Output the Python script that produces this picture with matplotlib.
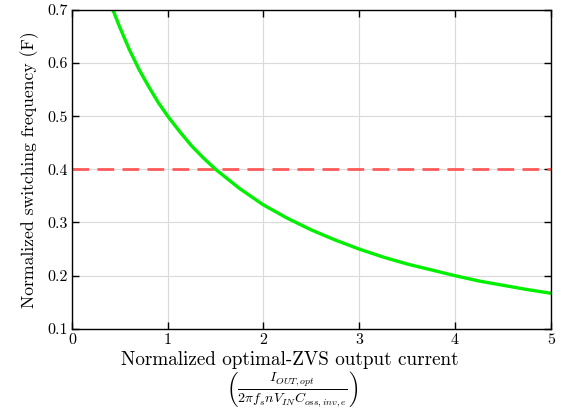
import matplotlib
matplotlib.use("Agg")
import matplotlib.pyplot as plt

# values
current = [0.43, 0.5, 0.6, 0.7, 0.8, 0.9, 1.0, 1.125, 1.25, 1.375, 1.5, 1.75, 2.0,
           2.25, 2.5, 2.75, 3.0, 3.25, 3.5, 3.75, 4.0, 4.25, 4.5, 4.75, 5.0]
freq = [0.699, 0.667, 0.625, 0.588, 0.556, 0.526, 0.500, 0.471, 0.444, 0.421,
        0.400, 0.364, 0.333, 0.308, 0.286, 0.267, 0.250, 0.235, 0.222, 0.211,
        0.200, 0.190, 0.182, 0.174, 0.167]
limit_level = 0.4

x_ticks = [0, 1, 2, 3, 4, 5]
y_ticks = [0.1, 0.2, 0.3, 0.4, 0.5, 0.6, 0.7]

plt.rcParams["font.family"] = "serif"
plt.rcParams["font.serif"] = ["cmr10"]
plt.rcParams["mathtext.fontset"] = "cm"
plt.rcParams["axes.formatter.use_mathtext"] = True

fig = plt.figure(figsize=(5.62, 4.09), dpi=100)
ax = fig.add_axes([0.128, 0.196, 0.852, 0.780])

ax.grid(True, color="#dadada", linewidth=0.8)
ax.set_axisbelow(True)
ax.axhline(limit_level, color="#ff5a5a", linewidth=2, dashes=(6, 3))
ax.plot(current, freq, color="#00f000", linewidth=2.4)

ax.set_xlim(0, 5)
ax.set_ylim(0.1, 0.7)
ax.set_xticks(x_ticks)
ax.set_yticks(y_ticks)
ax.set_xticklabels([str(t) for t in x_ticks])
ax.set_yticklabels([f"{t:.1f}" for t in y_ticks])
ax.tick_params(direction="in", top=True, right=True, length=5, width=1,
               labelsize=11.5, pad=3)
for s in ax.spines.values():
    s.set_linewidth(1.0)

ax.set_ylabel("Normalized switching frequency (F)", fontsize=12.7, labelpad=6)

# x label in two pieces: text line and the normalising fraction
fig.text(0.516, 0.108, "Normalized optimal-ZVS output current",
         fontsize=13.75, ha="center", va="baseline")
fig.text(0.52, 0.049,
         r"$\left(\frac{I_{OUT,opt}}{2\pi f_s n V_{IN} C_{oss,inv,e}}\right)$",
         fontsize=14.3, ha="center", va="center")

fig.savefig("out.png", dpi=100)
